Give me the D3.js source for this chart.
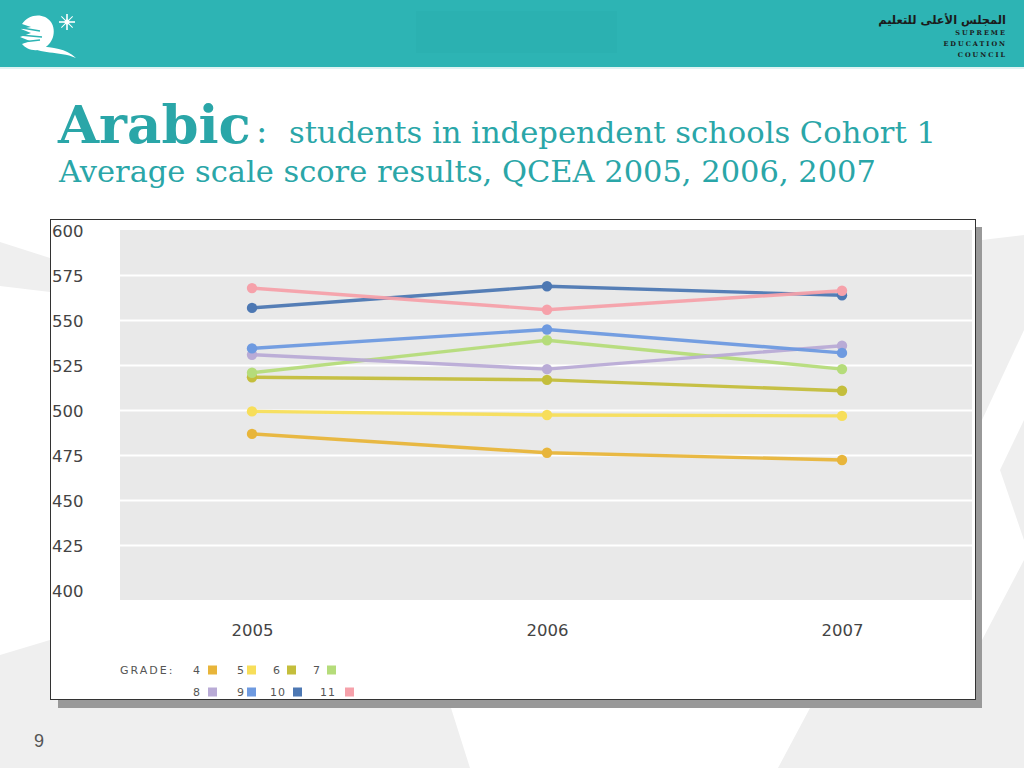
<!DOCTYPE html>
<html>
<head>
<meta charset="utf-8">
<script src="https://cdn.jsdelivr.net/npm/d3@7"></script>
<style>
  html, body { margin: 0; padding: 0; background: #fff; }
  svg { display: block; }
</style>
</head>
<body>
<svg id="c" width="1024" height="768"></svg>
<script>
// ---------- DATA ----------
const years = ["2005", "2006", "2007"];
const grades = ["4", "5", "6", "7", "8", "9", "10", "11"];
const grade4  = [487, 476.5, 472.5];
const grade5  = [499.5, 497.5, 497];
const grade6  = [518.5, 517, 511];
const grade7  = [521, 539, 523];
const grade8  = [531, 523, 536];
const grade9  = [534.5, 545, 532];
const grade10 = [557, 569, 564];
const grade11 = [568, 556, 566.5];
const yTicks = [400, 425, 450, 475, 500, 525, 550, 575, 600];
const gradeColors = ["#e8b53a", "#f7de5a", "#c4be3c", "#b5dc7a", "#b9abd6", "#6e9ae0", "#4d78b3", "#f6a1aa"];

const seriesValues = [grade4, grade5, grade6, grade7, grade8, grade9, grade10, grade11];
const series = grades.map((g, i) => ({ grade: g, color: gradeColors[i],
  values: years.map((yr, j) => ({ year: yr, value: seriesValues[i][j] })) }));

const svg = d3.select("#c");

// ---------- slide background ----------
const bg = svg.append("g");
const bgShapes = [
  [[0,242],[50,258],[50,292],[0,286]],
  [[0,655],[50,640],[50,700],[451,708],[470,768],[0,768]],
  [[810,708],[982,708],[982,640],[1024,560],[1024,768],[778,768]],
  [[982,240],[1024,235],[1024,330],[982,420]],
  [[1024,420],[1000,470],[1024,540]]
];
bg.selectAll("path").data(bgShapes).enter().append("path")
  .attr("d", d => "M" + d.map(p => p.join(",")).join("L") + "Z")
  .attr("fill", "#efefef");

// ---------- header ----------
svg.append("rect").attr("x", 0).attr("y", 0).attr("width", 1024).attr("height", 67).attr("fill", "#2db4b4");
svg.append("rect").attr("x", 416).attr("y", 11).attr("width", 201).attr("height", 42).attr("fill", "#2bb1b1");
svg.append("rect").attr("x", 0).attr("y", 67).attr("width", 1024).attr("height", 2).attr("fill", "#dff3f3");

// logo (white)
const logo = svg.append("g").attr("fill", "#fff");
logo.append("path").attr("d", "M22,24 C28,14 44,12 51,22 C57,31 53,45 42,49 C34,52 26,49 22,44 L30,41 L20,37 L31,33 L21,29 L31,27 Z");
logo.append("path").attr("d", "M28,44 C40,56 58,50 76,58 C66,48 52,48 40,46 Z");
logo.append("path").attr("d", "M22,28 L40,31 M20,35 L42,37 M22,42 L40,40").attr("stroke", "#2db4b4").attr("stroke-width", 1.5).attr("fill", "none");
const star = logo.append("g").attr("transform", "translate(67,22)");
[0, 45, 90, 135].forEach(a => {
  star.append("line").attr("x1", -8).attr("x2", 8).attr("y1", 0).attr("y2", 0)
    .attr("stroke", "#fff").attr("stroke-width", a % 90 === 0 ? 1.6 : 1)
    .attr("transform", `rotate(${a})`);
});
star.append("circle").attr("r", 2.5);

// council text
const ar = svg.append("text").attr("x", 1006).attr("y", 24).attr("text-anchor", "end")
  .attr("font-family", "DejaVu Sans").attr("font-weight", "bold").attr("font-size", 14)
  .attr("fill", "#1b1b1b").text("المجلس الأعلى للتعليم");
[["SUPREME", 35], ["EDUCATION", 46], ["COUNCIL", 57]].forEach(([t, y]) => {
  svg.append("text").attr("x", 1007).attr("y", y).attr("text-anchor", "end")
    .attr("font-family", "DejaVu Serif").attr("font-weight", "bold").attr("font-size", 6.5)
    .attr("letter-spacing", 2).attr("fill", "#1b1b1b").text(t);
});

// ---------- title ----------
const teal = "#2aa6a8";
const t1 = svg.append("text").attr("y", 143).attr("fill", teal).attr("font-family", "DejaVu Serif");
t1.append("tspan").attr("x", 58).attr("font-weight", "bold").attr("font-size", 53).text("Arabic");
t1.append("tspan").attr("x", 256).attr("font-size", 34).text(":");
const sub1 = svg.append("text").attr("x", 289).attr("y", 143).attr("fill", teal)
  .attr("font-family", "DejaVu Serif").attr("font-size", 29).text("students in independent schools Cohort 1");
const sub2 = svg.append("text").attr("x", 59).attr("y", 182).attr("fill", teal)
  .attr("font-family", "DejaVu Serif").attr("font-size", 29).text("Average scale score results, QCEA 2005, 2006, 2007");
function fit(sel, w) {
  const fs = +sel.attr("font-size");
  const len = sel.node().getComputedTextLength();
  sel.attr("font-size", (fs * w / len).toFixed(2));
}
fit(sub1, 647);
fit(sub2, 817);
fit(ar, 128);

// ---------- chart box ----------
svg.append("rect").attr("x", 58).attr("y", 227).attr("width", 924).attr("height", 481).attr("fill", "#999");
svg.append("rect").attr("x", 50.5).attr("y", 219.5).attr("width", 925).attr("height", 480)
  .attr("fill", "#fff").attr("stroke", "#333").attr("stroke-width", 1);

const x = d3.scalePoint().domain(years).range([252, 842]);
const y = d3.scaleLinear().domain([400, 600]).range([590.5, 230.5]);

// plot background
svg.append("rect").attr("x", 120).attr("y", 230).attr("width", 852).attr("height", 370).attr("fill", "#e9e9e9");
svg.append("g").selectAll("line").data(yTicks.filter(v => v > 400 && v < 600)).enter().append("line")
  .attr("x1", 120).attr("x2", 972).attr("y1", d => y(d)).attr("y2", d => y(d))
  .attr("stroke", "#fff").attr("stroke-width", 2);

// y axis
const yAxis = svg.append("g").attr("transform", "translate(52,0)")
  .call(d3.axisRight(y).tickValues(yTicks).tickSize(0).tickPadding(0));
yAxis.select(".domain").remove();
yAxis.selectAll("text").attr("font-family", "DejaVu Sans").attr("font-size", 16.5)
  .attr("fill", "#444").attr("text-anchor", "start").attr("x", 0).attr("dy", "0.36em");

// x axis
const xAxis = svg.append("g").attr("transform", "translate(0,630)")
  .call(d3.axisBottom(x).tickSize(0).tickPadding(0));
xAxis.select(".domain").remove();
xAxis.selectAll("text").attr("font-family", "DejaVu Sans").attr("font-size", 16.5)
  .attr("fill", "#444").attr("y", 0).attr("dy", "0.36em");

// lines & points
const line = d3.line().x(d => x(d.year)).y(d => y(d.value));
const sg = svg.append("g").selectAll("g").data(series).enter().append("g");
sg.append("path").attr("d", d => line(d.values)).attr("fill", "none")
  .attr("stroke", d => d.color).attr("stroke-width", 3.4).attr("stroke-linejoin", "round").attr("opacity", 0.95);
sg.selectAll("circle").data(d => d.values.map(v => ({ ...v, color: d.color }))).enter().append("circle")
  .attr("cx", d => x(d.year)).attr("cy", d => y(d.value)).attr("r", 5.2).attr("fill", d => d.color);

// legend
const lg = svg.append("g").attr("font-family", "DejaVu Sans").attr("font-size", 11).attr("fill", "#555");
lg.append("text").attr("x", 120).attr("y", 674).attr("letter-spacing", 2).text("GRADE:");
const legendPos = [
  [193, 208, 670], [237, 247, 670], [273, 287, 670], [313, 327, 670],
  [193, 208, 692], [237, 247, 692], [270, 293, 692], [320, 345, 692]
];
series.forEach((s, i) => {
  const [tx, sx, cy] = legendPos[i];
  lg.append("text").attr("x", tx).attr("y", cy + 4).attr("letter-spacing", 1).text(s.grade);
  lg.append("rect").attr("x", sx).attr("y", cy - 4.5).attr("width", 9).attr("height", 9).attr("fill", s.color);
});

// page number
svg.append("text").attr("x", 34).attr("y", 747).attr("font-family", "Liberation Sans")
  .attr("font-size", 18).attr("fill", "#555").text("9");
</script>
</body>
</html>
